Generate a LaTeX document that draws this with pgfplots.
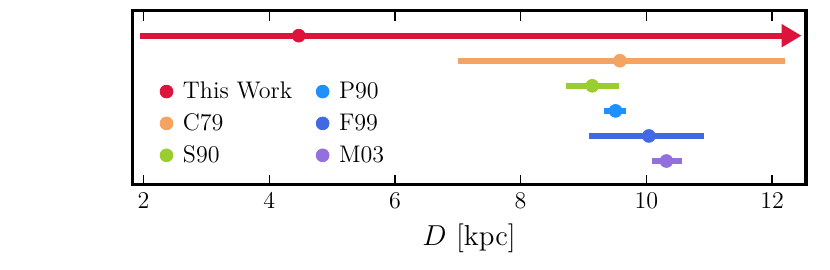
\documentclass[border=0pt]{standalone}
\usepackage{pgfplots}
\pgfplotsset{compat=1.18}
\usetikzlibrary{arrows.meta}
\definecolor{cTW}{HTML}{DC143C}
\definecolor{cC}{HTML}{F4A460}
\definecolor{cS}{HTML}{9ACD32}
\definecolor{cP}{HTML}{1E90FF}
\definecolor{cF}{HTML}{4169E1}
\definecolor{cM}{HTML}{9370DB}
\begin{document}
\begin{tikzpicture}
\begin{axis}[
  width=336.5pt, height=87pt, scale only axis,
  xmin=1.82, xmax=12.54, ymin=-0.95, ymax=6,
  xtick={2,4,6,8,10,12}, ytick=\empty,
  tick align=inside, major tick length=5pt,
  every tick/.style={black, line width=0.6pt},
  axis line style={line width=1.6pt},
  xtick pos=both,
  ticklabel style={font=\fontsize{11.5}{13}\selectfont},
  xticklabel style={yshift=-0.5pt},
  xlabel={$D$ [kpc]},
  xlabel style={font=\Large, yshift=-1pt},
  legend columns=2,
  legend style={at={(0.032,0.64)}, anchor=north west, draw=none, fill=none,
    font=\large, row sep=2pt, column sep=3pt,
    /tikz/every even column/.append style={column sep=10pt}},
  legend cell align=left,
]
% error bars
\addplot[cTW, line width=3pt, -{Triangle[length=10pt,width=11pt]}, forget plot] coordinates {(1.95,5) (12.47,5)};
\addplot[cC, line width=3pt, forget plot] coordinates {(7.0,4) (12.2,4)};
\addplot[cS, line width=3pt, forget plot] coordinates {(8.72,3) (9.56,3)};
\addplot[cP, line width=3pt, forget plot] coordinates {(9.33,2) (9.67,2)};
\addplot[cF, line width=3pt, forget plot] coordinates {(9.09,1) (10.92,1)};
\addplot[cM, line width=3pt, forget plot] coordinates {(10.09,0) (10.56,0)};
% markers (row-wise legend order)
\addplot[only marks, mark=*, mark size=3.2pt, cTW] coordinates {(4.47,5)};
\addlegendentry{This Work}
\addplot[only marks, mark=*, mark size=3.2pt, cP] coordinates {(9.51,2)};
\addlegendentry{P90}
\addplot[only marks, mark=*, mark size=3.2pt, cC] coordinates {(9.58,4)};
\addlegendentry{C79}
\addplot[only marks, mark=*, mark size=3.2pt, cF] coordinates {(10.04,1)};
\addlegendentry{F99}
\addplot[only marks, mark=*, mark size=3.2pt, cS] coordinates {(9.14,3)};
\addlegendentry{S90}
\addplot[only marks, mark=*, mark size=3.2pt, cM] coordinates {(10.32,0)};
\addlegendentry{M03}
\end{axis}
\pgfresetboundingbox
\path (current axis.south west) ++(-66pt,-42.5pt) coordinate (A);
\path (current axis.north east) ++(12pt,5.3pt) coordinate (B);
\path[use as bounding box] (A) rectangle (B);
\end{tikzpicture}
\end{document}
